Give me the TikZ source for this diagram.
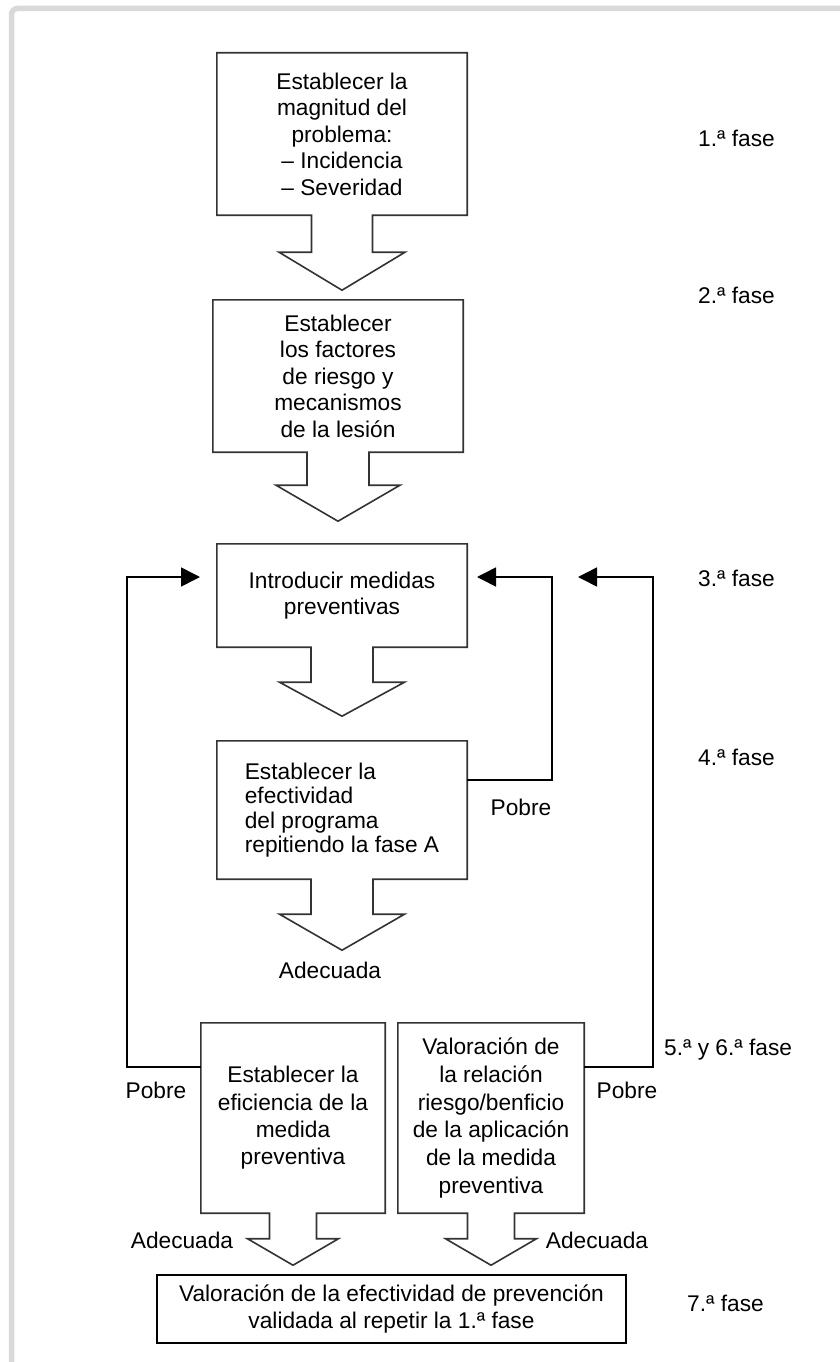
\documentclass[tikz,border=0pt]{standalone}
\usepackage{fontspec}
\setmainfont{Liberation Sans}
\usetikzlibrary{calc,arrows.meta}
\newcommand\fsz{\fontsize{22.7}{26.5}\selectfont}
\newcommand\myblock[5]{%
  \draw[outline] (#1.south west) -- (#1.north west) -- (#1.north east) -- (#1.south east)
    -- ($(#1.south)+(#2,0)$) -- ($(#1.south)+(#2,#3)$) -- ($(#1.south)+(#4,#3)$)
    -- ($(#1.south)+(0,{#3+#5})$) -- ($(#1.south)+(-#4,#3)$) -- ($(#1.south)+(-#2,#3)$)
    -- ($(#1.south)+(-#2,0)$) -- cycle;}
\begin{document}
\begin{tikzpicture}[x=1pt,y=-1pt,
  box/.style={draw=none, inner sep=0pt, align=center, font=\fsz},
  outline/.style={draw=black!80, line width=1.6pt, line join=miter},
  lbl/.style={inner sep=0pt, font=\fsz},
  fb/.style={draw=black, line width=1.6pt, -{Triangle[length=19pt,width=19pt]}},
  frame/.style={draw=black!15, line width=5.5pt, rounded corners=6pt}]
\useasboundingbox (0,0) rectangle (839,1362);
\fill[white] (0,0) rectangle (839,1362);
\draw[frame] (11.5,1362) -- (11.5,8.5) -- (845,8.5);

% boxes
\node[box, minimum width=250pt, minimum height=162pt] (b1) at (342,134)
  {Establecer la\\magnitud del\\problema:\\– Incidencia\\– Severidad};
\node[box, minimum width=250pt, minimum height=152pt] (b2) at (338,376)
  {Establecer\\los factores\\de riesgo y\\mecanismos\\de la lesión};
\node[box, minimum width=250pt, minimum height=103pt] (b3) at (342,595.5)
  {Introducir medidas\\preventivas};
\node[box, minimum width=250pt, minimum height=138pt, align=left,
  font=\fontsize{22.7}{24.5}\selectfont] (b4) at (342,810)
  {Establecer la\\efectividad\\del programa\\repitiendo la fase A};
\node[box, minimum width=184pt, minimum height=190pt, font=\fontsize{22.7}{27.3}\selectfont] (b5) at (293,1118)
  {Establecer la\\eficiencia de la\\medida\\preventiva};
\node[box, minimum width=186pt, minimum height=190pt, font=\fontsize{22.7}{27.8}\selectfont] (b6) at (491,1118)
  {Valoración de\\la relación\\riesgo/benficio\\de la aplicación\\de la medida\\preventiva};
\node[box, draw=black, line width=2pt, minimum width=469pt, minimum height=68pt] (b7) at (391.5,1309)
  {Valoración de la efectividad de prevención\\validada al repetir la 1.ª fase};

% block arrows
\myblock{b1}{30.5}{37}{63}{38}
\myblock{b2}{31}{33}{62}{36}
\myblock{b3}{31}{35}{62.5}{34}
\myblock{b4}{31}{35}{62.5}{36}
\myblock{b5}{23.5}{25.5}{45.5}{26.5}
\myblock{b6}{23.5}{25.5}{45.5}{26.5}

% feedback loops
\coordinate (lt) at (200,577);
\coordinate (mt) at (477,577);
\coordinate (rt) at (578,577);
\coordinate (lc) at (127,577);
\coordinate (mc) at (552,577);
\coordinate (rc) at (653,577);
\draw[fb] ($(b5.north west)+(0,44)$) -| (lc) -- (lt);
\draw[fb] ($(b4.north east)+(0,39)$) -| (mc) -- (mt);
\draw[fb] ($(b6.north east)+(0,44)$) -| (rc) -- (rt);

% labels
\node[lbl] (p1) at (521,807) {Pobre};
\node[lbl] (a1) at (330,970) {Adecuada};
\node[lbl] (p2) at (156,1090) {Pobre};
\node[lbl] (p3) at (627,1090) {Pobre};
\node[lbl] (a2) at (182,1240) {Adecuada};
\node[lbl] (a3) at (597,1240) {Adecuada};

% phases
\node[lbl, anchor=west] (f1) at (698,138) {1.ª fase};
\node[lbl, anchor=west] (f2) at (698,295) {2.ª fase};
\node[lbl, anchor=west] (f3) at (698,578) {3.ª fase};
\node[lbl, anchor=west] (f4) at (698,757) {4.ª fase};
\node[lbl, anchor=west] (f5) at (664,1050) {5.ª y 6.ª fase};
\node[lbl, anchor=west] (f7) at (687,1303) {7.ª fase};
\end{tikzpicture}
\end{document}
